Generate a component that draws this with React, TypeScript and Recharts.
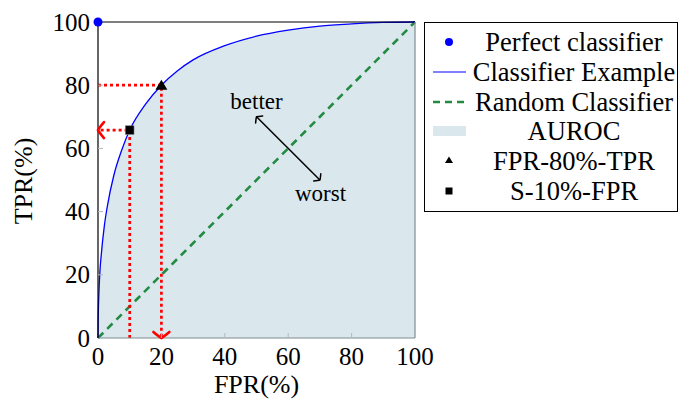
import { ComposedChart, Area, Line, Scatter, XAxis, YAxis, Legend, ReferenceDot, Label } from "recharts";

const axisTicks = [0, 20, 40, 60, 80, 100];

// ROC curve (FPR %, TPR %)
const rocFpr = [0, 0.02, 0.1, 0.3, 0.6, 1, 2, 3, 5, 7.5, 10, 15, 20, 25, 30, 40, 50, 60, 70, 80, 90, 100];
const rocTpr = [0, 3, 8, 14.5, 21, 26, 35.5, 42, 51.5, 59.5, 65.8, 74, 80, 84.5, 88, 92.5, 95.5, 97.4, 98.7, 99.4, 99.85, 100];

const perfectFpr = [0];
const perfectTpr = [100];

const randomFpr = [0, 100];
const randomTpr = [0, 100];

// operating points: triangle (FPR-80%-TPR) and square (S-10%-FPR)
const pointNames = ["FPR-80%-TPR", "S-10%-FPR"];
const pointFpr = [20, 10];
const pointTpr = [80, 65.8];

// better / worst arrow
const arrowFpr = [50, 70];
const arrowTpr = [70, 50];
const arrowText = ["better", "worst"];
const arrowTextFpr = [50, 70.2];
const arrowTextTpr = [74.9, 46];

const legendNames = ["Perfect classifier", "Classifier Example", "Random Classifier", "AUROC", pointNames[0], pointNames[1]];

const BLUE = "#0000ff";
const GREEN = "#238a41";
const RED = "#ff0000";
const FILL = "#dae8ee";
const FONT = '"Liberation Serif", "DejaVu Serif", serif';

const zip = (xs: number[], ys: number[]) => xs.map((x, i) => ({ fpr: x, tpr: ys[i] }));

const rocData = zip(rocFpr, rocTpr);
const perfectData = zip(perfectFpr, perfectTpr);
const randomData = zip(randomFpr, randomTpr);
const triData = [{ fpr: pointFpr[0], tpr: pointTpr[0] }];
const sqData = [{ fpr: pointFpr[1], tpr: pointTpr[1] }];
// dotted guides, arrow tip on the last point
const triGuide = zip([0, pointFpr[0], pointFpr[0]], [pointTpr[0], pointTpr[0], 0]);
const sqGuide = zip([pointFpr[1], pointFpr[1], 0], [0, pointTpr[1], pointTpr[1]]);
const arrowData = zip(arrowFpr, arrowTpr);

function chevron(cx: number, cy: number, angle: number, color: string, s: number, w: number, key: string) {
  // points "down" before rotation, tip at (cx, cy)
  return (
    <path
      key={key}
      d={`M ${-s} ${-s * 0.75} Q ${-s * 0.3} ${-s * 0.15} 0 0 Q ${s * 0.3} ${-s * 0.15} ${s} ${-s * 0.75}`}
      transform={`translate(${cx},${cy}) rotate(${angle})`}
      fill="none"
      stroke={color}
      strokeWidth={w}
      strokeLinecap="round"
    />
  );
}

function BottomTick(p: any) {
  const v = p.payload.value;
  return (
    <g>
      {v > 0 && v < 100 && <line x1={p.x} x2={p.x} y1={p.y} y2={p.y - 5} stroke="#b8b8b8" />}
      <text x={p.x} y={p.y + 27} textAnchor="middle" fontSize={25} fontFamily={FONT} fill="#000">{v}</text>
    </g>
  );
}

function TopTick(p: any) {
  const v = p.payload.value;
  if (v <= 0 || v >= 100) return <g />;
  return <line x1={p.x} x2={p.x} y1={p.y} y2={p.y + 5} stroke="#b8b8b8" />;
}

function LeftTick(p: any) {
  const v = p.payload.value;
  return (
    <g>
      {v > 0 && v < 100 && <line x1={p.x} x2={p.x + 5} y1={p.y} y2={p.y} stroke="#b8b8b8" />}
      <text x={p.x - 8} y={p.y + 8.5} textAnchor="end" fontSize={25} fontFamily={FONT} fill="#000">{v}</text>
    </g>
  );
}

function RightTick(p: any) {
  const v = p.payload.value;
  if (v <= 0 || v >= 100) return <g />;
  return <line x1={p.x} x2={p.x - 5} y1={p.y} y2={p.y} stroke="#b8b8b8" />;
}

function XTitle(p: any) {
  const vb = p.viewBox;
  return (
    <text x={vb.x + vb.width / 2} y={vb.y + 55} textAnchor="middle" fontSize={26} fontFamily={FONT} fill="#000">FPR(%)</text>
  );
}

function YTitle(p: any) {
  const vb = p.viewBox;
  return (
    <text
      transform={`translate(${vb.x + vb.width - 66},${vb.y + vb.height / 2 + 1}) rotate(-90)`}
      textAnchor="middle"
      fontSize={26}
      fontFamily={FONT}
      fill="#000"
    >
      TPR(%)
    </text>
  );
}

function legendSymbol(i: number) {
  switch (i) {
    case 0:
      return <circle cx={24} cy={15} r={4} fill={BLUE} />;
    case 1:
      return <line x1={8} x2={41} y1={15} y2={15} stroke={BLUE} strokeWidth={1.2} />;
    case 2:
      return <line x1={8} x2={42} y1={15} y2={15} stroke={GREEN} strokeWidth={2.6} strokeDasharray="7 5" />;
    case 3:
      return <rect x={8} y={10} width={33} height={10} fill={FILL} />;
    case 4:
      return <polygon points="24,10.5 28,17 20,17" fill="#000" />;
    default:
      return <rect x={20.5} y={11.5} width={7} height={7} fill="#000" />;
  }
}

function LegendBox() {
  return (
    <div
      style={{
        width: 254,
        height: 190,
        boxSizing: "border-box",
        border: "1.3px solid #000",
        background: "#fff",
        paddingTop: 4,
        fontFamily: FONT,
      }}
    >
      {legendNames.map((name, i) => (
        <div key={name} style={{ display: "flex", alignItems: "center", height: 29.8 }}>
          <svg width={48} height={30} style={{ flex: "none" }}>{legendSymbol(i)}</svg>
          <div
            style={{
              width: 202,
              display: "flex",
              justifyContent: "center",
              fontSize: 26.5,
              lineHeight: "30px",
              whiteSpace: "nowrap",
            }}
          >
            {name}
          </div>
        </div>
      ))}
    </div>
  );
}

export default function App() {
  return (
    <div style={{ position: "absolute", left: 0, top: 0, width: 681, height: 399, background: "#fff", fontFamily: FONT }}>
      <ComposedChart width={681} height={399} margin={{ top: 21, right: 265, bottom: 60, left: 97 }}>
        <XAxis
          dataKey="fpr"
          type="number"
          domain={[0, 100]}
          ticks={axisTicks}
          interval={0}
          height={1}
          tickSize={0}
          tickMargin={0}
          tickLine={false}
          tick={BottomTick}
          axisLine={{ stroke: "#7f8b90", strokeWidth: 1.2 }}
        >
          <Label content={XTitle} />
        </XAxis>
        <XAxis
          xAxisId="top"
          orientation="top"
          dataKey="fpr"
          type="number"
          domain={[0, 100]}
          ticks={axisTicks}
          interval={0}
          height={1}
          tickSize={0}
          tickMargin={0}
          tickLine={false}
          tick={TopTick}
          axisLine={{ stroke: "#000", strokeWidth: 1.2 }}
        />
        <YAxis
          dataKey="tpr"
          type="number"
          domain={[0, 100]}
          ticks={axisTicks}
          interval={0}
          width={1}
          tickSize={0}
          tickMargin={0}
          tickLine={false}
          tick={LeftTick}
          axisLine={{ stroke: "#000", strokeWidth: 1.2 }}
        >
          <Label content={YTitle} />
        </YAxis>
        <YAxis
          yAxisId="right"
          orientation="right"
          dataKey="tpr"
          type="number"
          domain={[0, 100]}
          ticks={axisTicks}
          interval={0}
          width={1}
          tickSize={0}
          tickMargin={0}
          tickLine={false}
          tick={RightTick}
          axisLine={{ stroke: "#7f8b90", strokeWidth: 1.2 }}
        />

        <Area
          data={rocData}
          dataKey="tpr"
          type="monotone"
          baseValue={0}
          fill={FILL}
          fillOpacity={1}
          stroke="none"
          isAnimationActive={false}
        />
        <Line
          data={randomData}
          dataKey="tpr"
          type="linear"
          stroke={GREEN}
          strokeWidth={2.6}
          strokeDasharray="7.5 5.5"
          dot={false}
          activeDot={false}
          isAnimationActive={false}
        />
        <Line
          data={triGuide}
          dataKey="tpr"
          type="linear"
          stroke={RED}
          strokeWidth={2.7}
          strokeDasharray="3 3"
          dot={(p: any) => (p.index === 2 ? chevron(p.cx, p.cy, 0, RED, 8, 2.6, `t${p.index}`) : <g key={`t${p.index}`} />)}
          activeDot={false}
          isAnimationActive={false}
        />
        <Line
          data={sqGuide}
          dataKey="tpr"
          type="linear"
          stroke={RED}
          strokeWidth={2.7}
          strokeDasharray="3 3"
          dot={(p: any) => (p.index === 2 ? chevron(p.cx, p.cy, 90, RED, 8, 2.6, `s${p.index}`) : <g key={`s${p.index}`} />)}
          activeDot={false}
          isAnimationActive={false}
        />
        <Line
          data={rocData}
          dataKey="tpr"
          type="monotone"
          stroke={BLUE}
          strokeWidth={1.3}
          dot={false}
          activeDot={false}
          isAnimationActive={false}
        />
        <Line
          data={arrowData}
          dataKey="tpr"
          type="linear"
          stroke="#000"
          strokeWidth={1.5}
          dot={(p: any) => chevron(p.cx, p.cy, p.index === 0 ? 135 : -45, "#000", 5, 1.5, `a${p.index}`)}
          activeDot={false}
          isAnimationActive={false}
        />
        <Scatter
          data={perfectData}
          dataKey="tpr"
          isAnimationActive={false}
          shape={(p: any) => <circle cx={p.cx} cy={p.cy} r={4.5} fill={BLUE} />}
        />
        <Scatter
          data={triData}
          dataKey="tpr"
          isAnimationActive={false}
          shape={(p: any) => (
            <polygon points={`${p.cx},${p.cy - 5.5} ${p.cx + 6},${p.cy + 4.5} ${p.cx - 6},${p.cy + 4.5}`} fill="#000" />
          )}
        />
        <Scatter
          data={sqData}
          dataKey="tpr"
          isAnimationActive={false}
          shape={(p: any) => (
            <rect x={p.cx - 4.3} y={p.cy - 4.3} width={8.6} height={8.6} fill="#000" stroke="#777" strokeWidth={0.6} />
          )}
        />
        {arrowText.map((t, i) => (
          <ReferenceDot
            key={t}
            x={arrowTextFpr[i]}
            y={arrowTextTpr[i]}
            r={0}
            fill="none"
            stroke="none"
            label={{ value: t, position: "center", fontSize: 23, fontFamily: FONT, fill: "#000" }}
          />
        ))}
        <Legend
          layout="horizontal"
          verticalAlign="middle"
          align="center"
          content={() => <LegendBox />}
          wrapperStyle={{ left: 424, top: 22, width: 254, height: 190 }}
        />
      </ComposedChart>
    </div>
  );
}
